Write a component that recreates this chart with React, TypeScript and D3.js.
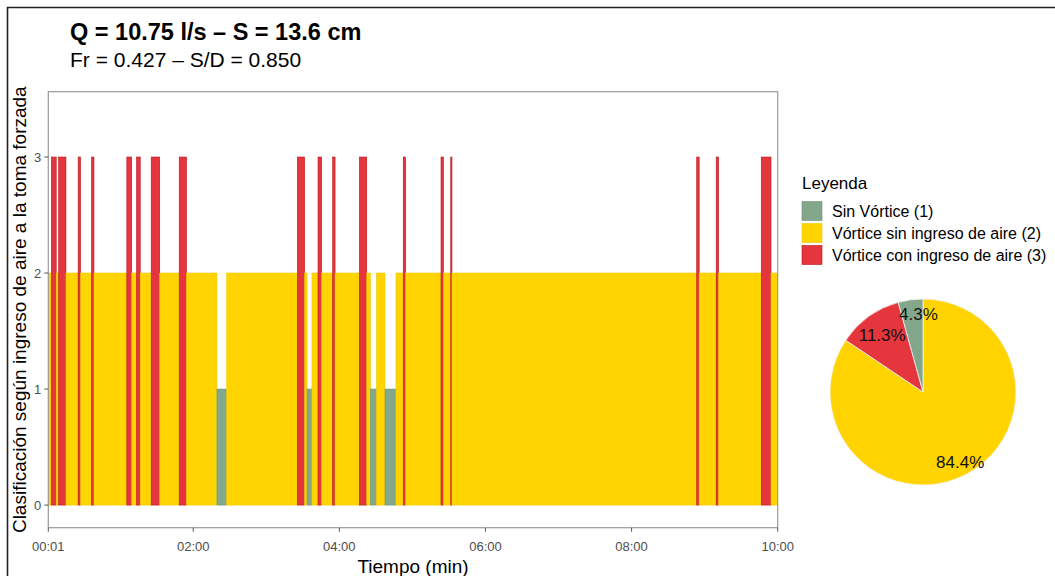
import * as d3 from "d3";

// class per second: 1 = sin vórtice, 2 = vórtice sin aire, 3 = vórtice con aire
const redStarts = [4, 10, 26, 37, 66, 74, 86, 109, 206, 223, 235, 257, 293, 324, 332, 534, 550, 587];
const redDurations = [4, 6, 2, 2, 4, 3, 7, 6, 6, 3, 2, 6, 2, 2, 1, 2, 2, 8];
const greenStarts = [140, 214, 266, 278];
const greenDurations = [8, 4, 5, 9];
const totalSeconds = 600;

const xTickSeconds = [1, 120, 240, 360, 480, 600];
const xTickLabels = ["00:01", "02:00", "04:00", "06:00", "08:00", "10:00"];
const yTicks = [0, 1, 2, 3];

const legendLabels = ["Sin Vórtice (1)", "Vórtice sin ingreso de aire (2)", "Vórtice con ingreso de aire (3)"];
const pieClasses = [2, 3, 1];
const piePercents = [84.4, 11.3, 4.3];

const fills: Record<number, string> = { 1: "#82A78B", 2: "#FFD400", 3: "#E4363C" };
const strokes: Record<number, string> = { 1: "#6F9479", 2: "#F2C800", 3: "#B9141C" };

const font = "'Liberation Sans', Arial, Helvetica, sans-serif";

export default function App() {
  const width = 1055;
  const height = 576;
  const panel = { left: 48.3, right: 777.7, top: 91.7, bottom: 527.7 };

  const x = d3.scaleLinear().domain([1, totalSeconds]).range([panel.left, panel.right]);
  const y = d3.scaleLinear().domain([-0.195, 3.563]).range([panel.bottom, panel.top]);

  // per second classes
  const cls: number[] = d3.range(totalSeconds + 1).map(() => 2);
  redStarts.forEach((s, i) => {
    for (let t = s; t < s + redDurations[i]; t++) cls[t] = 3;
  });
  greenStarts.forEach((s, i) => {
    for (let t = s; t < s + greenDurations[i]; t++) cls[t] = 1;
  });

  // merge into runs
  const runs: { start: number; end: number; c: number }[] = [];
  for (let t = 1; t <= totalSeconds; t++) {
    const last = runs[runs.length - 1];
    if (last && last.c === cls[t] && last.end === t - 1) last.end = t;
    else runs.push({ start: t, end: t, c: cls[t] });
  }

  const pieCx = 923;
  const pieCy = 392;
  const pieR = 93;
  const pie = d3.pie<number>().sort(null).startAngle(0).endAngle(2 * Math.PI)(piePercents);
  const arc = d3.arc<d3.PieArcDatum<number>>().innerRadius(0).outerRadius(pieR);
  const labelRadius = [0.85, 0.75, 0.85];
  const labelDx = [0, 0, 6];

  return (
    <svg width={width} height={height} style={{ position: "absolute", left: 0, top: 0, background: "#fff" }} fontFamily={font}>
      <line x1={7} y1={7.5} x2={width} y2={7.5} stroke="#222" strokeWidth={1.6} />
      <line x1={7.5} y1={7} x2={7.5} y2={height} stroke="#222" strokeWidth={1.6} />

      <text x={70} y={40} fontSize={23.5} fontWeight="bold" fill="#000">Q = 10.75 l/s – S = 13.6 cm</text>
      <text x={70} y={67} fontSize={21} fill="#000">Fr = 0.427 – S/D = 0.850</text>

      <defs>
        <clipPath id="panelClip">
          <rect x={panel.left} y={panel.top} width={panel.right - panel.left} height={panel.bottom - panel.top} />
        </clipPath>
      </defs>

      <g clipPath="url(#panelClip)">
        {runs.map((r, i) => (
          <rect
            key={i}
            x={x(r.start - 0.5)}
            y={y(r.c)}
            width={x(r.end + 0.5) - x(r.start - 0.5)}
            height={y(0) - y(r.c)}
            fill={fills[r.c]}
            stroke={strokes[r.c]}
            strokeWidth={0.6}
          />
        ))}
      </g>

      <rect x={panel.left} y={panel.top} width={panel.right - panel.left} height={panel.bottom - panel.top}
        fill="none" stroke="#9a9a9a" strokeWidth={1.2} />

      {yTicks.map((t) => (
        <g key={t}>
          <line x1={panel.left - 4} x2={panel.left} y1={y(t)} y2={y(t)} stroke="#555" strokeWidth={1} />
          <text x={panel.left - 7} y={y(t)} dy="0.35em" textAnchor="end" fontSize={13} fill="#4d4d4d">{t}</text>
        </g>
      ))}
      {xTickSeconds.map((t, i) => (
        <g key={t}>
          <line x1={x(t)} x2={x(t)} y1={panel.bottom} y2={panel.bottom + 4} stroke="#555" strokeWidth={1} />
          <text x={x(t)} y={551} textAnchor="middle" fontSize={13} fill="#4d4d4d">{xTickLabels[i]}</text>
        </g>
      ))}

      <text x={(panel.left + panel.right) / 2} y={573} textAnchor="middle" fontSize={19} fill="#000">Tiempo (min)</text>
      <text transform={`translate(26,${(panel.top + panel.bottom) / 2}) rotate(-90)`} textAnchor="middle" fontSize={19} fill="#000">
        Clasificación según ingreso de aire a la toma forzada
      </text>

      <text x={802} y={189} fontSize={17} fill="#000">Leyenda</text>
      {legendLabels.map((l, i) => (
        <g key={l}>
          <rect x={802} y={201.5 + i * 22} width={20} height={19} fill={fills[i + 1]} stroke={strokes[i + 1]} strokeWidth={0.6} />
          <text x={832} y={211 + i * 22} dy="0.35em" fontSize={16} fill="#000">{l}</text>
        </g>
      ))}

      <g transform={`translate(${pieCx},${pieCy})`}>
        {pie.map((p, i) => (
          <path key={i} d={arc(p) || ""} fill={fills[pieClasses[i]]} stroke="#f4f4f4" strokeWidth={0.8} />
        ))}
        {pie.map((p, i) => {
          const rr = pieR * labelRadius[i];
          const [lx, ly] = d3.arc<d3.PieArcDatum<number>>().innerRadius(rr).outerRadius(rr).centroid(p);
          return (
            <text key={"l" + i} x={lx + labelDx[i]} y={ly} dy="0.35em" textAnchor="middle" fontSize={17} fill="#111">
              {piePercents[i].toFixed(1)}%
            </text>
          );
        })}
      </g>
    </svg>
  );
}
